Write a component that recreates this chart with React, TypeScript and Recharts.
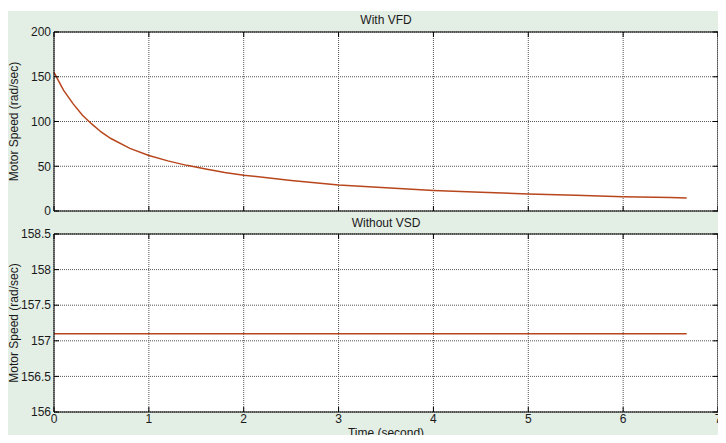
import { CartesianGrid, Line, LineChart, XAxis, YAxis } from 'recharts'

// With VFD: motor speed decay (rad/sec)
const vfdTime = [0, 0.1, 0.2, 0.3, 0.4, 0.5, 0.6, 0.8, 1.0, 1.2, 1.4, 1.6, 1.8, 2.0, 2.5, 3.0, 3.5, 4.0, 4.5, 5.0, 5.5, 6.0, 6.5, 6.67]
const vfdSpeed = [155, 135, 120, 107, 97, 88, 81, 70, 62, 56, 51, 47, 43, 40, 34, 29, 26, 23, 21, 19, 17.5, 16, 15, 14.5]

// Without VSD: constant speed
const vsdTime = [0, 6.67]
const vsdSpeed = [157.1, 157.1]

const timeTicks = [0, 1, 2, 3, 4, 5, 6, 7]
const vfdTicks = [0, 50, 100, 150, 200]
const vsdTicks = [156, 156.5, 157, 157.5, 158, 158.5]

const vfdData = vfdTime.map((t, i) => ({ t, v: vfdSpeed[i] }))
const vsdData = vsdTime.map((t, i) => ({ t, v: vsdSpeed[i] }))

const font = 'Liberation Sans, Arial, sans-serif'
const lineColor = '#b8461c'
const tickStyle = { fill: '#1a1a1a', fontSize: 12, fontFamily: font }
const axisLine = { stroke: '#000', strokeWidth: 1 }
const tickLine = { stroke: '#000' }
const noLabel = () => <g />

const Panel = ({ data, yTicks, yDomain, showX, height, margin }: any) => (
  <LineChart width={726} height={height} data={data} margin={margin}>
    <CartesianGrid fill="#fff" stroke="#555" strokeDasharray="1 1" horizontalValues={yTicks} verticalValues={timeTicks} />
    <XAxis
      dataKey="t"
      type="number"
      domain={[0, 7]}
      ticks={timeTicks}
      interval={0}
      height={showX ? 28 : 1}
      tick={showX ? tickStyle : noLabel}
      tickSize={-5}
      tickMargin={7}
      axisLine={axisLine}
      tickLine={tickLine}
      label={showX ? { value: 'Time (second)', position: 'insideBottom', offset: 3, fill: '#1a1a1a', fontSize: 12, fontFamily: font } : undefined}
    />
    <XAxis
      xAxisId="top"
      orientation="top"
      dataKey="t"
      type="number"
      domain={[0, 7]}
      ticks={timeTicks}
      interval={0}
      height={1}
      tick={noLabel}
      tickSize={-5}
      axisLine={axisLine}
      tickLine={tickLine}
    />
    <YAxis
      type="number"
      domain={yDomain}
      ticks={yTicks}
      interval={0}
      width={40}
      tick={tickStyle}
      tickSize={-5}
      tickMargin={8}
      axisLine={axisLine}
      tickLine={tickLine}
      label={{ value: 'Motor Speed (rad/sec)', angle: -90, position: 'insideLeft', offset: 0, fill: '#1a1a1a', fontSize: 12, fontFamily: font, style: { textAnchor: 'middle' } }}
    />
    <YAxis
      yAxisId="right"
      orientation="right"
      type="number"
      domain={yDomain}
      ticks={yTicks}
      interval={0}
      width={1}
      tick={noLabel}
      tickSize={-5}
      axisLine={axisLine}
      tickLine={tickLine}
    />
    <Line dataKey="v" stroke={lineColor} strokeWidth={1.5} dot={false} isAnimationActive={false} />
    <Line dataKey="v" xAxisId="top" yAxisId="right" stroke="none" dot={false} isAnimationActive={false} legendType="none" />
  </LineChart>
)

export default function App() {
  return (
    <div style={{ position: 'relative', width: 726, height: 443, margin: -8, background: '#fff', overflow: 'hidden' }}>
      <style>{'.recharts-surface { overflow: visible; }'}</style>
      <div style={{ position: 'absolute', left: 7, top: 11, right: 0, bottom: 0, background: '#e3eee5' }} />
      <div style={{ position: 'absolute', left: 0, top: 215 }}>
        <Panel data={vsdData} yTicks={vsdTicks} yDomain={[156, 158.5]} showX={true} height={228} margin={{ top: 18, right: 7, bottom: 3, left: 14 }} />
      </div>
      <div style={{ position: 'absolute', left: 0, top: 0 }}>
        <Panel data={vfdData} yTicks={vfdTicks} yDomain={[0, 200]} showX={false} height={215} margin={{ top: 31, right: 7, bottom: 3, left: 14 }} />
      </div>
      <div style={{ position: 'absolute', left: 54, width: 664, top: 13, textAlign: 'center', fontFamily: font, fontSize: 12, color: '#1a1a1a' }}>With VFD</div>
      <div style={{ position: 'absolute', left: 54, width: 664, top: 216, textAlign: 'center', fontFamily: font, fontSize: 12, color: '#1a1a1a' }}>Without VSD</div>
    </div>
  )
}
